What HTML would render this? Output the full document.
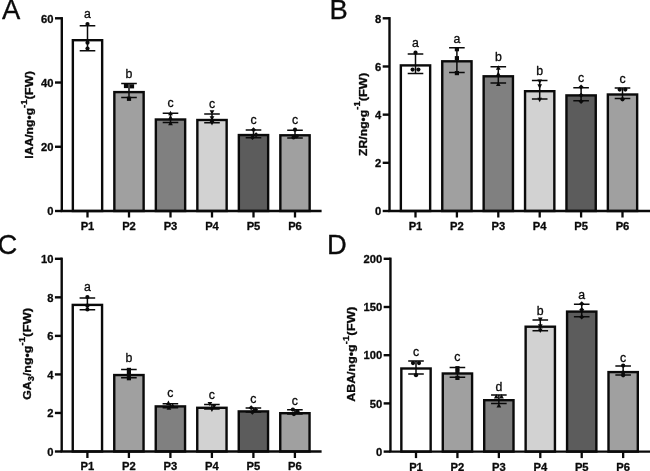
<!DOCTYPE html>
<html><head><meta charset="utf-8"><title>Figure</title>
<style>html,body{margin:0;padding:0;background:#fff;}body{position:relative;width:650px;height:471px;overflow:hidden;font-family:"Liberation Sans", sans-serif;}
#fig text{stroke:#0a0a0a;stroke-width:0.3px;stroke-linejoin:round;}
#fig{position:absolute;left:-12px;top:-12px;display:block;font-family:"Liberation Sans", sans-serif;filter:grayscale(1) blur(0.4px);}</style>
</head><body>
<svg width="674" height="495" viewBox="-12 -12 674 495" id="fig">
<rect x="-12" y="-12" width="674" height="495" fill="#fff"/>
<g>
<text x="1.9" y="18.8" font-size="27.4" fill="#0a0a0a">A</text>
<rect x="72.85" y="40.20" width="29.30" height="170.80" fill="#ffffff" stroke="#0a0a0a" stroke-width="2.4"/>
<rect x="114.35" y="92.10" width="29.30" height="118.90" fill="#a0a0a0" stroke="#0a0a0a" stroke-width="2.4"/>
<rect x="155.85" y="119.50" width="29.30" height="91.50" fill="#808080" stroke="#0a0a0a" stroke-width="2.4"/>
<rect x="197.35" y="120.00" width="29.30" height="91.00" fill="#d2d2d2" stroke="#0a0a0a" stroke-width="2.4"/>
<rect x="238.85" y="135.05" width="29.30" height="75.95" fill="#5c5c5c" stroke="#0a0a0a" stroke-width="2.4"/>
<rect x="280.35" y="135.30" width="29.30" height="75.70" fill="#a0a0a0" stroke="#0a0a0a" stroke-width="2.4"/>
<path d="M87.50 25.80V50.70M79.70 25.80H95.30M79.70 50.70H95.30" stroke="#0a0a0a" stroke-width="1.5" fill="none"/>
<circle cx="87.50" cy="24.10" r="2.10" fill="#0a0a0a"/>
<circle cx="87.50" cy="42.70" r="2.10" fill="#0a0a0a"/>
<circle cx="87.50" cy="48.60" r="2.10" fill="#0a0a0a"/>
<text x="87.50" y="18.10" font-size="12.3" text-anchor="middle" fill="#0a0a0a">a</text>
<path d="M129.00 83.50V97.40M121.20 83.50H136.80M121.20 97.40H136.80" stroke="#0a0a0a" stroke-width="1.5" fill="none"/>
<rect x="123.90" y="83.90" width="4.20" height="4.20" fill="#0a0a0a"/>
<rect x="129.90" y="84.20" width="4.20" height="4.20" fill="#0a0a0a"/>
<rect x="126.90" y="96.70" width="4.20" height="4.20" fill="#0a0a0a"/>
<text x="129.00" y="78.10" font-size="12.3" text-anchor="middle" fill="#0a0a0a">b</text>
<path d="M170.50 113.20V122.50M162.70 113.20H178.30M162.70 122.50H178.30" stroke="#0a0a0a" stroke-width="1.5" fill="none"/>
<path d="M170.50 110.85 L172.85 115.30 L168.15 115.30Z" fill="#0a0a0a"/>
<path d="M170.50 115.05 L172.85 119.50 L168.15 119.50Z" fill="#0a0a0a"/>
<path d="M170.50 120.85 L172.85 125.30 L168.15 125.30Z" fill="#0a0a0a"/>
<text x="170.50" y="107.20" font-size="12.3" text-anchor="middle" fill="#0a0a0a">c</text>
<path d="M212.00 114.00V122.80M204.20 114.00H219.80M204.20 122.80H219.80" stroke="#0a0a0a" stroke-width="1.5" fill="none"/>
<path d="M212.00 114.75 L214.35 110.30 L209.65 110.30Z" fill="#0a0a0a"/>
<path d="M212.00 120.75 L214.35 116.30 L209.65 116.30Z" fill="#0a0a0a"/>
<path d="M212.00 125.55 L214.35 121.10 L209.65 121.10Z" fill="#0a0a0a"/>
<text x="212.00" y="108.00" font-size="12.3" text-anchor="middle" fill="#0a0a0a">c</text>
<path d="M253.50 130.10V137.80M245.70 130.10H261.30M245.70 137.80H261.30" stroke="#0a0a0a" stroke-width="1.5" fill="none"/>
<path d="M253.50 127.18 L256.02 129.70 L253.50 132.22 L250.98 129.70Z" fill="#0a0a0a"/>
<path d="M256.10 132.28 L258.62 134.80 L256.10 137.32 L253.58 134.80Z" fill="#0a0a0a"/>
<path d="M252.50 134.98 L255.02 137.50 L252.50 140.02 L249.98 137.50Z" fill="#0a0a0a"/>
<text x="253.50" y="123.70" font-size="12.3" text-anchor="middle" fill="#0a0a0a">c</text>
<path d="M295.00 130.30V138.00M287.20 130.30H302.80M287.20 138.00H302.80" stroke="#0a0a0a" stroke-width="1.5" fill="none"/>
<circle cx="295.00" cy="129.70" r="2.10" fill="#0a0a0a"/>
<circle cx="296.50" cy="136.30" r="2.10" fill="#0a0a0a"/>
<circle cx="293.50" cy="137.40" r="2.10" fill="#0a0a0a"/>
<text x="295.00" y="123.70" font-size="12.3" text-anchor="middle" fill="#0a0a0a">c</text>
<path d="M61.80 17.10V211.00" stroke="#0a0a0a" stroke-width="2.4" fill="none"/>
<path d="M60.60 211.00H321.60" stroke="#0a0a0a" stroke-width="2.4" fill="none"/>
<path d="M55.00 211.00H61.80" stroke="#0a0a0a" stroke-width="2.4"/>
<text x="53.50" y="215.20" font-size="11.2" font-weight="bold" text-anchor="end" fill="#0a0a0a">0</text>
<path d="M55.00 146.77H61.80" stroke="#0a0a0a" stroke-width="2.4"/>
<text x="53.50" y="150.97" font-size="11.2" font-weight="bold" text-anchor="end" fill="#0a0a0a">20</text>
<path d="M55.00 82.53H61.80" stroke="#0a0a0a" stroke-width="2.4"/>
<text x="53.50" y="86.73" font-size="11.2" font-weight="bold" text-anchor="end" fill="#0a0a0a">40</text>
<path d="M55.00 18.30H61.80" stroke="#0a0a0a" stroke-width="2.4"/>
<text x="53.50" y="22.50" font-size="11.2" font-weight="bold" text-anchor="end" fill="#0a0a0a">60</text>
<path d="M87.50 211.00V217.50" stroke="#0a0a0a" stroke-width="2.3"/>
<text x="87.50" y="230.30" font-size="11.2" font-weight="bold" text-anchor="middle" fill="#0a0a0a">P1</text>
<path d="M129.00 211.00V217.50" stroke="#0a0a0a" stroke-width="2.3"/>
<text x="129.00" y="230.30" font-size="11.2" font-weight="bold" text-anchor="middle" fill="#0a0a0a">P2</text>
<path d="M170.50 211.00V217.50" stroke="#0a0a0a" stroke-width="2.3"/>
<text x="170.50" y="230.30" font-size="11.2" font-weight="bold" text-anchor="middle" fill="#0a0a0a">P3</text>
<path d="M212.00 211.00V217.50" stroke="#0a0a0a" stroke-width="2.3"/>
<text x="212.00" y="230.30" font-size="11.2" font-weight="bold" text-anchor="middle" fill="#0a0a0a">P4</text>
<path d="M253.50 211.00V217.50" stroke="#0a0a0a" stroke-width="2.3"/>
<text x="253.50" y="230.30" font-size="11.2" font-weight="bold" text-anchor="middle" fill="#0a0a0a">P5</text>
<path d="M295.00 211.00V217.50" stroke="#0a0a0a" stroke-width="2.3"/>
<text x="295.00" y="230.30" font-size="11.2" font-weight="bold" text-anchor="middle" fill="#0a0a0a">P6</text>
<text transform="translate(33.10 114.85) rotate(-90) scale(1.105 1)" font-size="11" font-weight="bold" text-anchor="middle" fill="#0a0a0a">IAA/ng•g<tspan font-size="8.6" dy="-6.2">-1</tspan><tspan font-size="11.6" dy="6.2">(FW)</tspan></text>
</g>
<g>
<text x="329.45" y="18.8" font-size="27.4" fill="#0a0a0a">B</text>
<rect x="400.85" y="65.40" width="29.30" height="145.60" fill="#ffffff" stroke="#0a0a0a" stroke-width="2.4"/>
<rect x="442.25" y="61.30" width="29.30" height="149.70" fill="#a0a0a0" stroke="#0a0a0a" stroke-width="2.4"/>
<rect x="483.65" y="76.30" width="29.30" height="134.70" fill="#808080" stroke="#0a0a0a" stroke-width="2.4"/>
<rect x="525.05" y="91.20" width="29.30" height="119.80" fill="#d2d2d2" stroke="#0a0a0a" stroke-width="2.4"/>
<rect x="566.45" y="95.40" width="29.30" height="115.60" fill="#5c5c5c" stroke="#0a0a0a" stroke-width="2.4"/>
<rect x="607.85" y="94.50" width="29.30" height="116.50" fill="#a0a0a0" stroke="#0a0a0a" stroke-width="2.4"/>
<path d="M415.50 54.10V73.50M407.70 54.10H423.30M407.70 73.50H423.30" stroke="#0a0a0a" stroke-width="1.5" fill="none"/>
<circle cx="415.50" cy="52.70" r="2.10" fill="#0a0a0a"/>
<circle cx="412.60" cy="69.60" r="2.10" fill="#0a0a0a"/>
<circle cx="418.40" cy="69.60" r="2.10" fill="#0a0a0a"/>
<text x="415.50" y="47.30" font-size="12.3" text-anchor="middle" fill="#0a0a0a">a</text>
<path d="M456.90 47.85V72.40M449.10 47.85H464.70M449.10 72.40H464.70" stroke="#0a0a0a" stroke-width="1.5" fill="none"/>
<rect x="454.80" y="47.10" width="4.20" height="4.20" fill="#0a0a0a"/>
<rect x="454.80" y="56.10" width="4.20" height="4.20" fill="#0a0a0a"/>
<rect x="454.80" y="71.00" width="4.20" height="4.20" fill="#0a0a0a"/>
<text x="456.90" y="42.70" font-size="12.3" text-anchor="middle" fill="#0a0a0a">a</text>
<path d="M498.30 66.70V82.90M490.50 66.70H506.10M490.50 82.90H506.10" stroke="#0a0a0a" stroke-width="1.5" fill="none"/>
<path d="M498.30 65.35 L500.65 69.80 L495.95 69.80Z" fill="#0a0a0a"/>
<path d="M498.30 71.55 L500.65 76.00 L495.95 76.00Z" fill="#0a0a0a"/>
<path d="M498.30 81.65 L500.65 86.10 L495.95 86.10Z" fill="#0a0a0a"/>
<text x="498.30" y="60.50" font-size="12.3" text-anchor="middle" fill="#0a0a0a">b</text>
<path d="M539.70 80.60V98.90M531.90 80.60H547.50M531.90 98.90H547.50" stroke="#0a0a0a" stroke-width="1.5" fill="none"/>
<path d="M539.70 83.85 L542.05 79.40 L537.35 79.40Z" fill="#0a0a0a"/>
<path d="M539.70 88.75 L542.05 84.30 L537.35 84.30Z" fill="#0a0a0a"/>
<path d="M539.70 102.15 L542.05 97.70 L537.35 97.70Z" fill="#0a0a0a"/>
<text x="539.70" y="74.70" font-size="12.3" text-anchor="middle" fill="#0a0a0a">b</text>
<path d="M581.10 87.80V100.70M573.30 87.80H588.90M573.30 100.70H588.90" stroke="#0a0a0a" stroke-width="1.5" fill="none"/>
<path d="M581.10 84.58 L583.62 87.10 L581.10 89.62 L578.58 87.10Z" fill="#0a0a0a"/>
<path d="M581.10 92.68 L583.62 95.20 L581.10 97.72 L578.58 95.20Z" fill="#0a0a0a"/>
<path d="M581.10 98.88 L583.62 101.40 L581.10 103.92 L578.58 101.40Z" fill="#0a0a0a"/>
<text x="581.10" y="82.00" font-size="12.3" text-anchor="middle" fill="#0a0a0a">c</text>
<path d="M622.50 88.00V98.40M614.70 88.00H630.30M614.70 98.40H630.30" stroke="#0a0a0a" stroke-width="1.5" fill="none"/>
<circle cx="619.70" cy="89.60" r="2.10" fill="#0a0a0a"/>
<circle cx="625.30" cy="89.60" r="2.10" fill="#0a0a0a"/>
<circle cx="622.50" cy="99.30" r="2.10" fill="#0a0a0a"/>
<text x="622.50" y="83.10" font-size="12.3" text-anchor="middle" fill="#0a0a0a">c</text>
<path d="M389.50 17.10V211.00" stroke="#0a0a0a" stroke-width="2.4" fill="none"/>
<path d="M388.30 211.00H662.00" stroke="#0a0a0a" stroke-width="2.4" fill="none"/>
<path d="M382.70 211.00H389.50" stroke="#0a0a0a" stroke-width="2.4"/>
<text x="381.20" y="215.20" font-size="11.2" font-weight="bold" text-anchor="end" fill="#0a0a0a">0</text>
<path d="M382.70 162.82H389.50" stroke="#0a0a0a" stroke-width="2.4"/>
<text x="381.20" y="167.02" font-size="11.2" font-weight="bold" text-anchor="end" fill="#0a0a0a">2</text>
<path d="M382.70 114.65H389.50" stroke="#0a0a0a" stroke-width="2.4"/>
<text x="381.20" y="118.85" font-size="11.2" font-weight="bold" text-anchor="end" fill="#0a0a0a">4</text>
<path d="M382.70 66.48H389.50" stroke="#0a0a0a" stroke-width="2.4"/>
<text x="381.20" y="70.68" font-size="11.2" font-weight="bold" text-anchor="end" fill="#0a0a0a">6</text>
<path d="M382.70 18.30H389.50" stroke="#0a0a0a" stroke-width="2.4"/>
<text x="381.20" y="22.50" font-size="11.2" font-weight="bold" text-anchor="end" fill="#0a0a0a">8</text>
<path d="M415.50 211.00V217.50" stroke="#0a0a0a" stroke-width="2.3"/>
<text x="415.50" y="230.30" font-size="11.2" font-weight="bold" text-anchor="middle" fill="#0a0a0a">P1</text>
<path d="M456.90 211.00V217.50" stroke="#0a0a0a" stroke-width="2.3"/>
<text x="456.90" y="230.30" font-size="11.2" font-weight="bold" text-anchor="middle" fill="#0a0a0a">P2</text>
<path d="M498.30 211.00V217.50" stroke="#0a0a0a" stroke-width="2.3"/>
<text x="498.30" y="230.30" font-size="11.2" font-weight="bold" text-anchor="middle" fill="#0a0a0a">P3</text>
<path d="M539.70 211.00V217.50" stroke="#0a0a0a" stroke-width="2.3"/>
<text x="539.70" y="230.30" font-size="11.2" font-weight="bold" text-anchor="middle" fill="#0a0a0a">P4</text>
<path d="M581.10 211.00V217.50" stroke="#0a0a0a" stroke-width="2.3"/>
<text x="581.10" y="230.30" font-size="11.2" font-weight="bold" text-anchor="middle" fill="#0a0a0a">P5</text>
<path d="M622.50 211.00V217.50" stroke="#0a0a0a" stroke-width="2.3"/>
<text x="622.50" y="230.30" font-size="11.2" font-weight="bold" text-anchor="middle" fill="#0a0a0a">P6</text>
<text transform="translate(366.50 114.35) rotate(-90) scale(1.107 1)" font-size="11" font-weight="bold" text-anchor="middle" fill="#0a0a0a">ZR/ng•g<tspan font-size="8.6" dy="-6.2">-1</tspan><tspan font-size="11.6" dy="6.2">(FW)</tspan></text>
</g>
<g>
<text x="-2.4" y="254.2" font-size="27.4" fill="#0a0a0a">C</text>
<rect x="72.75" y="304.90" width="29.30" height="146.60" fill="#ffffff" stroke="#0a0a0a" stroke-width="2.4"/>
<rect x="114.25" y="375.05" width="29.30" height="76.45" fill="#a0a0a0" stroke="#0a0a0a" stroke-width="2.4"/>
<rect x="155.75" y="406.40" width="29.30" height="45.10" fill="#808080" stroke="#0a0a0a" stroke-width="2.4"/>
<rect x="197.25" y="407.80" width="29.30" height="43.70" fill="#d2d2d2" stroke="#0a0a0a" stroke-width="2.4"/>
<rect x="238.75" y="411.40" width="29.30" height="40.10" fill="#5c5c5c" stroke="#0a0a0a" stroke-width="2.4"/>
<rect x="280.25" y="413.20" width="29.30" height="38.30" fill="#a0a0a0" stroke="#0a0a0a" stroke-width="2.4"/>
<path d="M87.40 298.00V309.75M79.60 298.00H95.20M79.60 309.75H95.20" stroke="#0a0a0a" stroke-width="1.5" fill="none"/>
<circle cx="87.40" cy="297.00" r="2.10" fill="#0a0a0a"/>
<circle cx="87.40" cy="305.70" r="2.10" fill="#0a0a0a"/>
<circle cx="87.40" cy="309.50" r="2.10" fill="#0a0a0a"/>
<text x="87.40" y="291.20" font-size="12.3" text-anchor="middle" fill="#0a0a0a">a</text>
<path d="M128.90 369.50V377.80M121.10 369.50H136.70M121.10 377.80H136.70" stroke="#0a0a0a" stroke-width="1.5" fill="none"/>
<rect x="126.80" y="367.80" width="4.20" height="4.20" fill="#0a0a0a"/>
<rect x="126.80" y="372.00" width="4.20" height="4.20" fill="#0a0a0a"/>
<rect x="126.80" y="376.10" width="4.20" height="4.20" fill="#0a0a0a"/>
<text x="128.90" y="361.70" font-size="12.3" text-anchor="middle" fill="#0a0a0a">b</text>
<path d="M170.40 403.70V407.80M162.60 403.70H178.20M162.60 407.80H178.20" stroke="#0a0a0a" stroke-width="1.5" fill="none"/>
<path d="M168.40 400.55 L170.75 405.00 L166.05 405.00Z" fill="#0a0a0a"/>
<path d="M172.60 403.05 L174.95 407.50 L170.25 407.50Z" fill="#0a0a0a"/>
<path d="M168.90 405.25 L171.25 409.70 L166.55 409.70Z" fill="#0a0a0a"/>
<text x="170.40" y="397.30" font-size="12.3" text-anchor="middle" fill="#0a0a0a">c</text>
<path d="M211.90 404.40V408.90M204.10 404.40H219.70M204.10 408.90H219.70" stroke="#0a0a0a" stroke-width="1.5" fill="none"/>
<path d="M209.90 406.35 L212.25 401.90 L207.55 401.90Z" fill="#0a0a0a"/>
<path d="M214.10 408.65 L216.45 404.20 L211.75 404.20Z" fill="#0a0a0a"/>
<path d="M211.90 411.95 L214.25 407.50 L209.55 407.50Z" fill="#0a0a0a"/>
<text x="211.90" y="398.70" font-size="12.3" text-anchor="middle" fill="#0a0a0a">c</text>
<path d="M253.40 408.10V412.10M245.60 408.10H261.20M245.60 412.10H261.20" stroke="#0a0a0a" stroke-width="1.5" fill="none"/>
<path d="M251.20 405.28 L253.72 407.80 L251.20 410.32 L248.68 407.80Z" fill="#0a0a0a"/>
<path d="M255.60 407.28 L258.12 409.80 L255.60 412.32 L253.08 409.80Z" fill="#0a0a0a"/>
<path d="M252.40 409.78 L254.92 412.30 L252.40 414.82 L249.88 412.30Z" fill="#0a0a0a"/>
<text x="253.40" y="402.80" font-size="12.3" text-anchor="middle" fill="#0a0a0a">c</text>
<path d="M294.90 409.80V413.90M287.10 409.80H302.70M287.10 413.90H302.70" stroke="#0a0a0a" stroke-width="1.5" fill="none"/>
<circle cx="292.90" cy="409.60" r="2.10" fill="#0a0a0a"/>
<circle cx="297.40" cy="411.30" r="2.10" fill="#0a0a0a"/>
<circle cx="293.90" cy="414.10" r="2.10" fill="#0a0a0a"/>
<text x="294.90" y="405.05" font-size="12.3" text-anchor="middle" fill="#0a0a0a">c</text>
<path d="M61.70 257.60V451.50" stroke="#0a0a0a" stroke-width="2.4" fill="none"/>
<path d="M60.50 451.50H321.60" stroke="#0a0a0a" stroke-width="2.4" fill="none"/>
<path d="M54.90 451.50H61.70" stroke="#0a0a0a" stroke-width="2.4"/>
<text x="53.40" y="455.70" font-size="11.2" font-weight="bold" text-anchor="end" fill="#0a0a0a">0</text>
<path d="M54.90 412.96H61.70" stroke="#0a0a0a" stroke-width="2.4"/>
<text x="53.40" y="417.16" font-size="11.2" font-weight="bold" text-anchor="end" fill="#0a0a0a">2</text>
<path d="M54.90 374.42H61.70" stroke="#0a0a0a" stroke-width="2.4"/>
<text x="53.40" y="378.62" font-size="11.2" font-weight="bold" text-anchor="end" fill="#0a0a0a">4</text>
<path d="M54.90 335.88H61.70" stroke="#0a0a0a" stroke-width="2.4"/>
<text x="53.40" y="340.08" font-size="11.2" font-weight="bold" text-anchor="end" fill="#0a0a0a">6</text>
<path d="M54.90 297.34H61.70" stroke="#0a0a0a" stroke-width="2.4"/>
<text x="53.40" y="301.54" font-size="11.2" font-weight="bold" text-anchor="end" fill="#0a0a0a">8</text>
<path d="M54.90 258.80H61.70" stroke="#0a0a0a" stroke-width="2.4"/>
<text x="53.40" y="263.00" font-size="11.2" font-weight="bold" text-anchor="end" fill="#0a0a0a">10</text>
<path d="M87.40 451.50V458.00" stroke="#0a0a0a" stroke-width="2.3"/>
<text x="87.40" y="470.40" font-size="11.2" font-weight="bold" text-anchor="middle" fill="#0a0a0a">P1</text>
<path d="M128.90 451.50V458.00" stroke="#0a0a0a" stroke-width="2.3"/>
<text x="128.90" y="470.40" font-size="11.2" font-weight="bold" text-anchor="middle" fill="#0a0a0a">P2</text>
<path d="M170.40 451.50V458.00" stroke="#0a0a0a" stroke-width="2.3"/>
<text x="170.40" y="470.40" font-size="11.2" font-weight="bold" text-anchor="middle" fill="#0a0a0a">P3</text>
<path d="M211.90 451.50V458.00" stroke="#0a0a0a" stroke-width="2.3"/>
<text x="211.90" y="470.40" font-size="11.2" font-weight="bold" text-anchor="middle" fill="#0a0a0a">P4</text>
<path d="M253.40 451.50V458.00" stroke="#0a0a0a" stroke-width="2.3"/>
<text x="253.40" y="470.40" font-size="11.2" font-weight="bold" text-anchor="middle" fill="#0a0a0a">P5</text>
<path d="M294.90 451.50V458.00" stroke="#0a0a0a" stroke-width="2.3"/>
<text x="294.90" y="470.40" font-size="11.2" font-weight="bold" text-anchor="middle" fill="#0a0a0a">P6</text>
<text transform="translate(31.30 353.85) rotate(-90) scale(1.128 1)" font-size="11" font-weight="bold" text-anchor="middle" fill="#0a0a0a">GA<tspan font-size="8.2" dy="2.4">3</tspan><tspan dy="-2.4">/ng•g</tspan><tspan font-size="8.6" dy="-6.2">-1</tspan><tspan font-size="11.6" dy="6.2">(FW)</tspan></text>
</g>
<g>
<text x="327.1" y="254.0" font-size="27.4" fill="#0a0a0a">D</text>
<rect x="401.35" y="368.50" width="29.30" height="83.10" fill="#ffffff" stroke="#0a0a0a" stroke-width="2.4"/>
<rect x="442.78" y="373.50" width="29.30" height="78.10" fill="#a0a0a0" stroke="#0a0a0a" stroke-width="2.4"/>
<rect x="484.21" y="400.20" width="29.30" height="51.40" fill="#808080" stroke="#0a0a0a" stroke-width="2.4"/>
<rect x="525.64" y="326.70" width="29.30" height="124.90" fill="#d2d2d2" stroke="#0a0a0a" stroke-width="2.4"/>
<rect x="567.07" y="311.60" width="29.30" height="140.00" fill="#5c5c5c" stroke="#0a0a0a" stroke-width="2.4"/>
<rect x="608.50" y="372.10" width="29.30" height="79.50" fill="#a0a0a0" stroke="#0a0a0a" stroke-width="2.4"/>
<path d="M416.00 360.90V374.05M408.20 360.90H423.80M408.20 374.05H423.80" stroke="#0a0a0a" stroke-width="1.5" fill="none"/>
<circle cx="413.00" cy="363.10" r="2.10" fill="#0a0a0a"/>
<circle cx="419.00" cy="363.10" r="2.10" fill="#0a0a0a"/>
<circle cx="416.00" cy="375.20" r="2.10" fill="#0a0a0a"/>
<text x="416.00" y="356.20" font-size="12.3" text-anchor="middle" fill="#0a0a0a">c</text>
<path d="M457.43 367.50V377.20M449.63 367.50H465.23M449.63 377.20H465.23" stroke="#0a0a0a" stroke-width="1.5" fill="none"/>
<rect x="455.33" y="366.10" width="4.20" height="4.20" fill="#0a0a0a"/>
<rect x="455.33" y="369.60" width="4.20" height="4.20" fill="#0a0a0a"/>
<rect x="455.33" y="375.80" width="4.20" height="4.20" fill="#0a0a0a"/>
<text x="457.43" y="361.40" font-size="12.3" text-anchor="middle" fill="#0a0a0a">c</text>
<path d="M498.86 394.90V403.50M491.06 394.90H506.66M491.06 403.50H506.66" stroke="#0a0a0a" stroke-width="1.5" fill="none"/>
<path d="M496.26 393.95 L498.61 398.40 L493.91 398.40Z" fill="#0a0a0a"/>
<path d="M501.46 393.95 L503.81 398.40 L499.11 398.40Z" fill="#0a0a0a"/>
<path d="M498.86 402.95 L501.21 407.40 L496.51 407.40Z" fill="#0a0a0a"/>
<text x="498.86" y="391.45" font-size="12.3" text-anchor="middle" fill="#0a0a0a">d</text>
<path d="M540.29 320.05V330.85M532.49 320.05H548.09M532.49 330.85H548.09" stroke="#0a0a0a" stroke-width="1.5" fill="none"/>
<path d="M540.29 321.85 L542.64 317.40 L537.94 317.40Z" fill="#0a0a0a"/>
<path d="M540.29 328.65 L542.64 324.20 L537.94 324.20Z" fill="#0a0a0a"/>
<path d="M540.29 332.95 L542.64 328.50 L537.94 328.50Z" fill="#0a0a0a"/>
<text x="540.29" y="315.05" font-size="12.3" text-anchor="middle" fill="#0a0a0a">b</text>
<path d="M581.72 304.20V316.70M573.92 304.20H589.52M573.92 316.70H589.52" stroke="#0a0a0a" stroke-width="1.5" fill="none"/>
<path d="M581.72 301.28 L584.24 303.80 L581.72 306.32 L579.20 303.80Z" fill="#0a0a0a"/>
<path d="M581.72 307.28 L584.24 309.80 L581.72 312.32 L579.20 309.80Z" fill="#0a0a0a"/>
<path d="M581.72 314.58 L584.24 317.10 L581.72 319.62 L579.20 317.10Z" fill="#0a0a0a"/>
<text x="581.72" y="299.10" font-size="12.3" text-anchor="middle" fill="#0a0a0a">a</text>
<path d="M623.15 366.00V375.00M615.35 366.00H630.95M615.35 375.00H630.95" stroke="#0a0a0a" stroke-width="1.5" fill="none"/>
<circle cx="623.15" cy="365.60" r="2.10" fill="#0a0a0a"/>
<circle cx="623.15" cy="372.50" r="2.10" fill="#0a0a0a"/>
<circle cx="623.15" cy="375.30" r="2.10" fill="#0a0a0a"/>
<text x="623.15" y="361.60" font-size="12.3" text-anchor="middle" fill="#0a0a0a">c</text>
<path d="M390.45 257.60V451.60" stroke="#0a0a0a" stroke-width="2.4" fill="none"/>
<path d="M389.25 451.60H662.00" stroke="#0a0a0a" stroke-width="2.4" fill="none"/>
<path d="M383.65 451.60H390.45" stroke="#0a0a0a" stroke-width="2.4"/>
<text x="382.15" y="455.80" font-size="11.2" font-weight="bold" text-anchor="end" fill="#0a0a0a">0</text>
<path d="M383.65 403.40H390.45" stroke="#0a0a0a" stroke-width="2.4"/>
<text x="382.15" y="407.60" font-size="11.2" font-weight="bold" text-anchor="end" fill="#0a0a0a">50</text>
<path d="M383.65 355.20H390.45" stroke="#0a0a0a" stroke-width="2.4"/>
<text x="382.15" y="359.40" font-size="11.2" font-weight="bold" text-anchor="end" fill="#0a0a0a">100</text>
<path d="M383.65 307.00H390.45" stroke="#0a0a0a" stroke-width="2.4"/>
<text x="382.15" y="311.20" font-size="11.2" font-weight="bold" text-anchor="end" fill="#0a0a0a">150</text>
<path d="M383.65 258.80H390.45" stroke="#0a0a0a" stroke-width="2.4"/>
<text x="382.15" y="263.00" font-size="11.2" font-weight="bold" text-anchor="end" fill="#0a0a0a">200</text>
<path d="M416.00 451.60V458.10" stroke="#0a0a0a" stroke-width="2.3"/>
<text x="416.00" y="470.50" font-size="11.2" font-weight="bold" text-anchor="middle" fill="#0a0a0a">P1</text>
<path d="M457.43 451.60V458.10" stroke="#0a0a0a" stroke-width="2.3"/>
<text x="457.43" y="470.50" font-size="11.2" font-weight="bold" text-anchor="middle" fill="#0a0a0a">P2</text>
<path d="M498.86 451.60V458.10" stroke="#0a0a0a" stroke-width="2.3"/>
<text x="498.86" y="470.50" font-size="11.2" font-weight="bold" text-anchor="middle" fill="#0a0a0a">P3</text>
<path d="M540.29 451.60V458.10" stroke="#0a0a0a" stroke-width="2.3"/>
<text x="540.29" y="470.50" font-size="11.2" font-weight="bold" text-anchor="middle" fill="#0a0a0a">P4</text>
<path d="M581.72 451.60V458.10" stroke="#0a0a0a" stroke-width="2.3"/>
<text x="581.72" y="470.50" font-size="11.2" font-weight="bold" text-anchor="middle" fill="#0a0a0a">P5</text>
<path d="M623.15 451.60V458.10" stroke="#0a0a0a" stroke-width="2.3"/>
<text x="623.15" y="470.50" font-size="11.2" font-weight="bold" text-anchor="middle" fill="#0a0a0a">P6</text>
<text transform="translate(355.20 354.20) rotate(-90) scale(1.13 1)" font-size="11" font-weight="bold" text-anchor="middle" fill="#0a0a0a">ABA/ng•g<tspan font-size="8.6" dy="-6.2">-1</tspan><tspan font-size="11.6" dy="6.2">(FW)</tspan></text>
</g>
</svg>
</body></html>
